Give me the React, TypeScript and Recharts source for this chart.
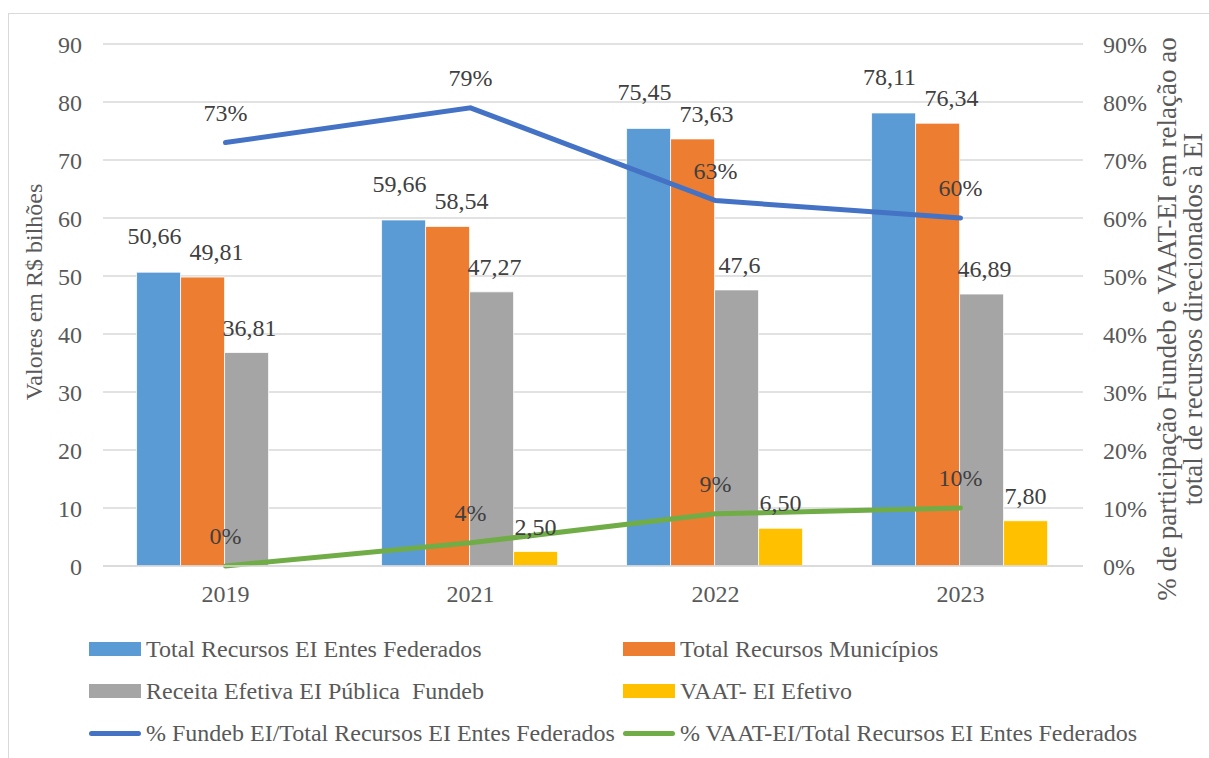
import React from "react";
import {
  ComposedChart,
  Bar,
  Line,
  XAxis,
  YAxis,
  CartesianGrid,
  LabelList,
  Label,
} from "recharts";

const years = ["2019", "2021", "2022", "2023"];
const totalEntes = [50.66, 59.66, 75.45, 78.11];
const totalMunicipios = [49.81, 58.54, 73.63, 76.34];
const receitaFundeb = [36.81, 47.27, 47.6, 46.89];
const vaatEfetivo = [0, 2.5, 6.5, 7.8];
const pctFundeb = [0.73, 0.79, 0.63, 0.6];
const pctVaat = [0, 0.04, 0.09, 0.1];
const leftTicks = [0, 10, 20, 30, 40, 50, 60, 70, 80, 90];
const rightTicks = [0, 0.1, 0.2, 0.3, 0.4, 0.5, 0.6, 0.7, 0.8, 0.9];

const data = years.map((year, i) => ({
  year,
  totalEntes: totalEntes[i],
  totalMunicipios: totalMunicipios[i],
  receitaFundeb: receitaFundeb[i],
  vaatEfetivo: vaatEfetivo[i],
  pctFundeb: pctFundeb[i],
  pctVaat: pctVaat[i],
}));

const FONT = "'Liberation Serif', 'Times New Roman', serif";
const TICK_COLOR = "#595959";
const LABEL_COLOR = "#404040";

const plain = (v: number) => String(v).replace(".", ",");
const twoDec = (v: number) => v.toFixed(2).replace(".", ",");
const pct = (v: number) => Math.round(v * 100) + "%";

const barSeries = [
  { key: "totalEntes", name: "Total Recursos EI Entes Federados", color: "#5B9BD5", dx: -4, lift: 28, fmt: plain },
  { key: "totalMunicipios", name: "Total Recursos Municípios", color: "#ED7D31", dx: 14, lift: 17, fmt: plain },
  { key: "receitaFundeb", name: "Receita Efetiva EI Pública  Fundeb", color: "#A5A5A5", dx: 3, lift: 17, fmt: plain },
  { key: "vaatEfetivo", name: "VAAT- EI Efetivo", color: "#FFC000", dx: 0, lift: 17, fmt: twoDec },
];

const lineSeries = [
  { key: "pctFundeb", name: "% Fundeb EI/Total Recursos EI Entes Federados", color: "#4472C4" },
  { key: "pctVaat", name: "% VAAT-EI/Total Recursos EI Entes Federados", color: "#70AD47" },
];

const barLabel = (dx: number, lift: number, fmt: (v: number) => string) => (props: any) => {
  const { x, y, width, value } = props;
  return (
    <text
      x={Number(x) + Number(width) / 2 + dx}
      y={Number(y) - lift}
      textAnchor="middle"
      fill={LABEL_COLOR}
      fontSize={24}
      fontFamily={FONT}
    >
      {fmt(Number(value))}
    </text>
  );
};

const lineLabel = (props: any) => {
  const { x, y, value } = props;
  return (
    <text
      x={Number(x)}
      y={Number(y) - 22}
      textAnchor="middle"
      fill={LABEL_COLOR}
      fontSize={24}
      fontFamily={FONT}
    >
      {pct(Number(value))}
    </text>
  );
};

const LeftTitle = (props: any) => {
  const vb = props.viewBox || {};
  const cx = vb.x + 25;
  const cy = vb.y + vb.height / 2 - 13;
  return (
    <text
      x={cx}
      y={cy}
      transform={`rotate(-90, ${cx}, ${cy})`}
      textAnchor="middle"
      dominantBaseline="central"
      fill={TICK_COLOR}
      fontSize={24}
      fontFamily={FONT}
    >
      Valores em R$ bilhões
    </text>
  );
};

const RightTitle = (props: any) => {
  const vb = props.viewBox || {};
  const cy = vb.y + vb.height / 2 + 14;
  const x1 = vb.x + 84;
  const x2 = vb.x + 110;
  return (
    <g>
      <text
        x={x1}
        y={cy}
        transform={`rotate(-90, ${x1}, ${cy})`}
        textAnchor="middle"
        dominantBaseline="central"
        fill={TICK_COLOR}
        fontSize={27}
        fontFamily={FONT}
      >
        % de participação Fundeb e VAAT-EI em relação ao
      </text>
      <text
        x={x2}
        y={cy}
        transform={`rotate(-90, ${x2}, ${cy})`}
        textAnchor="middle"
        dominantBaseline="central"
        fill={TICK_COLOR}
        fontSize={27}
        fontFamily={FONT}
      >
        total de recursos direcionados à EI
      </text>
    </g>
  );
};

const legendItems = [
  { ...barSeries[0], kind: "bar", left: 80, top: 635 },
  { ...barSeries[1], kind: "bar", left: 614, top: 635 },
  { ...barSeries[2], kind: "bar", left: 80, top: 677 },
  { ...barSeries[3], kind: "bar", left: 614, top: 677 },
  { ...lineSeries[0], kind: "line", left: 80, top: 719 },
  { ...lineSeries[1], kind: "line", left: 614, top: 719 },
];

const tickStyle = { fill: TICK_COLOR, fontSize: 24, fontFamily: FONT };

export default function App() {
  return (
    <div
      style={{
        position: "absolute",
        left: 8,
        top: 13,
        width: 1201,
        height: 745,
        overflow: "hidden",
        background: "#fff",
      }}
    >
      <div
        style={{
          position: "relative",
          width: 1240,
          height: 770,
          border: "1px solid #D9D9D9",
          boxSizing: "border-box",
        }}
      >
        <ComposedChart
          width={1230}
          height={620}
          data={data}
          margin={{ top: 30, right: 6, left: 0, bottom: 28 }}
          barCategoryGap="13.7%"
          barGap={0}
        >
          <CartesianGrid vertical={false} stroke="#D9D9D9" strokeWidth={1.5} yAxisId="left" />
          <XAxis
            dataKey="year"
            axisLine={{ stroke: "#D9D9D9", strokeWidth: 1.5 }}
            tickLine={false}
            tick={tickStyle}
            tickMargin={13}
            height={40}
          />
          <YAxis
            yAxisId="left"
            domain={[0, 90]}
            ticks={leftTicks}
            width={94}
            axisLine={false}
            tickLine={false}
            tickSize={6}
            tickMargin={15}
            tick={tickStyle}
          >
            <Label content={LeftTitle} />
          </YAxis>
          <YAxis
            yAxisId="right"
            orientation="right"
            domain={[0, 0.9]}
            ticks={rightTicks}
            tickFormatter={pct}
            width={150}
            axisLine={false}
            tickLine={false}
            tickSize={6}
            tickMargin={14}
            tick={tickStyle}
          >
            <Label content={RightTitle} />
          </YAxis>
          {barSeries.map((s) => (
            <Bar
              key={s.key}
              yAxisId="left"
              dataKey={s.key}
              name={s.name}
              fill={s.color}
              stroke="#FFFFFF"
              strokeWidth={0.75}
              isAnimationActive={false}
            >
              <LabelList dataKey={s.key} content={barLabel(s.dx, s.lift, s.fmt)} />
            </Bar>
          ))}
          {lineSeries.map((s) => (
            <Line
              key={s.key}
              yAxisId="right"
              type="linear"
              dataKey={s.key}
              name={s.name}
              stroke={s.color}
              strokeWidth={5}
              strokeLinecap="round"
              dot={false}
              activeDot={false}
              isAnimationActive={false}
            >
              <LabelList dataKey={s.key} content={lineLabel} />
            </Line>
          ))}
        </ComposedChart>
        {legendItems.map((item) => (
          <div
            key={item.key}
            style={{
              position: "absolute",
              left: item.left,
              top: item.top - 15,
              height: 30,
              display: "flex",
              alignItems: "center",
              fontFamily: FONT,
              fontSize: 24,
              color: TICK_COLOR,
              whiteSpace: "pre",
            }}
          >
            {item.kind === "bar" ? (
              <span
                style={{
                  display: "inline-block",
                  width: 52,
                  height: 14,
                  background: item.color,
                  marginRight: 5,
                }}
              />
            ) : (
              <span
                style={{
                  display: "inline-block",
                  width: 52,
                  height: 5,
                  borderRadius: 3,
                  background: item.color,
                  marginRight: 5,
                }}
              />
            )}
            <span>{item.name}</span>
          </div>
        ))}
      </div>
    </div>
  );
}
